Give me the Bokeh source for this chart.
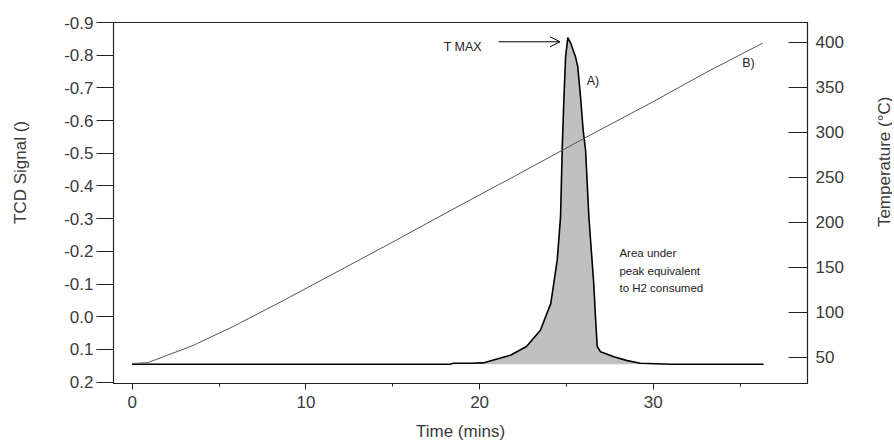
import numpy as np
from bokeh.plotting import figure
from bokeh.layouts import row
from bokeh.models import (Range1d, LinearAxis, FixedTicker, Label, Arrow, OpenHead,
                          CustomJSTickFormatter)
from bokeh.embed import file_html
from bokeh.resources import INLINE

# ---- data ----
time_min = [0.0, 5.0, 10.0, 15.0, 18.3, 18.5, 19.5, 20.2, 20.8, 21.8, 22.7, 23.5, 24.1,
            24.47, 24.66, 24.76, 24.85, 24.95, 25.08, 25.24, 25.52, 25.65, 25.81, 25.96,
            26.10, 26.29, 26.57, 26.67, 26.77, 26.96, 27.73, 28.50, 29.26, 31.0, 34.0, 36.35]
tcd_signal = [0.145, 0.145, 0.145, 0.145, 0.145, 0.142, 0.142, 0.141, 0.132, 0.117, 0.091,
              0.041, -0.041, -0.174, -0.306, -0.520, -0.663, -0.795, -0.854, -0.837, -0.795,
              -0.765, -0.673, -0.571, -0.510, -0.306, -0.102, 0.000, 0.091, 0.107, 0.122,
              0.134, 0.142, 0.145, 0.145, 0.145]
baseline_level = 0.145

temp_time = [0.0, 0.9, 2.0, 3.5, 5.8, 8.7, 12.0, 15.0, 18.9, 22.0, 26.0, 30.0, 33.0, 36.3]
temperature = [43, 44, 52, 63, 84, 113, 147, 178, 219, 251, 293, 334, 366, 399]

time_ticks = [0, 10, 20, 30]
time_minor_ticks = [5, 15, 25, 35]
signal_ticks = [-0.9, -0.8, -0.7, -0.6, -0.5, -0.4, -0.3, -0.2, -0.1, 0.0, 0.1, 0.2]
signal_tick_labels = ["-0.9", "-0.8", "-0.7", "-0.6", "-0.5", "-0.4", "-0.3", "-0.2",
                      "-0.1", "0.0", "0.1", "0.2"]
temp_ticks = [50, 100, 150, 200, 250, 300, 350, 400]

x_title = "Time (mins)"
left_title = "TCD Signal ()"
right_title = "Temperature (°C)"
area_note = ["Area under", "peak equivalent", "to H2 consumed"]

peak_start, peak_end = 20.2, 29.3

FONT = "Liberation Sans"
TXT = "#3a3a3a"
AX = "#222222"
H = 443

# ---- main figure ----
p = figure(width=826, height=H, output_backend="svg", toolbar_location=None,
           x_range=Range1d(-1.077, 38.877), y_range=Range1d(0.204, -0.9),
           min_border_left=73, min_border_right=59, min_border_top=22,
           min_border_bottom=60, background_fill_color="white",
           border_fill_color="white")
p.xgrid.visible = False
p.ygrid.visible = False
p.outline_line_color = AX
p.outline_line_width = 1.2

p.extra_y_ranges = {"temp": Range1d(20.8, 421.9)}

# bottom axis
xa = p.xaxis[0]
xa.ticker = FixedTicker(ticks=time_ticks, minor_ticks=time_minor_ticks)
xa.major_tick_out = 6
xa.major_tick_in = 0
xa.minor_tick_out = 3
xa.minor_tick_in = 0
xa.axis_line_color = AX
xa.major_tick_line_color = AX
xa.minor_tick_line_color = AX
xa.major_label_standoff = 6
xa.major_label_text_font = FONT
xa.major_label_text_font_size = "17px"
xa.major_label_text_color = TXT
xa.axis_label = x_title
xa.axis_label_standoff = 11
xa.axis_label_text_font = FONT
xa.axis_label_text_font_size = "17px"
xa.axis_label_text_font_style = "normal"
xa.axis_label_text_color = TXT

# left axis
ya = p.yaxis[0]
ya.ticker = FixedTicker(ticks=signal_ticks, minor_ticks=[])
ya.formatter = CustomJSTickFormatter(
    args=dict(tick_vals=signal_ticks, tick_texts=signal_tick_labels),
    code="""
    for (let i = 0; i < tick_vals.length; i++) {
        if (Math.abs(tick_vals[i] - tick) < 1e-9) return tick_texts[i];
    }
    return "";
    """)
ya.major_tick_out = 17
ya.major_tick_in = 0
ya.minor_tick_out = 0
ya.minor_tick_in = 0
ya.axis_line_color = AX
ya.major_tick_line_color = AX
ya.major_label_standoff = 3
ya.major_label_text_font = FONT
ya.major_label_text_font_size = "17px"
ya.major_label_text_color = TXT

# right axis
ra = LinearAxis(y_range_name="temp", ticker=FixedTicker(ticks=temp_ticks, minor_ticks=[]))
ra.major_tick_in = 19
ra.major_tick_out = 0
ra.minor_tick_in = 0
ra.minor_tick_out = 0
ra.axis_line_color = AX
ra.major_tick_line_color = AX
ra.major_label_standoff = 8
ra.major_label_text_font = FONT
ra.major_label_text_font_size = "17px"
ra.major_label_text_color = TXT
p.add_layout(ra, "right")

# ---- glyphs ----
t = np.array(time_min)
s = np.array(tcd_signal)
mask = (t >= peak_start) & (t <= peak_end)
p.varea(x=t[mask], y1=s[mask], y2=np.full(mask.sum(), baseline_level),
        fill_color="#c0c0c0", fill_alpha=1.0)
p.line(time_min, tcd_signal, line_color="black", line_width=1.6)
p.line(temp_time, temperature, y_range_name="temp", line_color="#555555", line_width=1)

# ---- annotations ----
ip = int(np.argmin(s))
t_peak, s_peak = t[ip], s[ip]
p.add_layout(Arrow(end=OpenHead(size=10, line_color="black", line_width=1),
                   x_start=t_peak - 3.99, y_start=s_peak + 0.013,
                   x_end=t_peak - 0.45, y_end=s_peak + 0.013,
                   line_color="black", line_width=1))
p.add_layout(Label(x=t_peak - 4.95, y=s_peak + 0.029, text="T MAX", text_align="right",
                   text_baseline="middle", text_font=FONT, text_font_size="12.5px",
                   text_color="#222222"))
p.add_layout(Label(x=26.17, y=-0.721, text="A)", text_align="left",
                   text_baseline="middle", text_font=FONT, text_font_size="12.5px",
                   text_color="#222222"))
p.add_layout(Label(x=35.12, y=-0.776, text="B)", text_align="left",
                   text_baseline="middle", text_font=FONT, text_font_size="12.5px",
                   text_color="#222222"))
for yy, line_txt in zip([-0.195, -0.140, -0.087], area_note):
    p.add_layout(Label(x=28.05, y=yy, text=line_txt, text_align="left",
                       text_baseline="middle", text_font=FONT, text_font_size="11.5px",
                       text_color="#222222"))


# ---- narrow side panels carrying the vertical axis titles ----
def side_panel(w, title, cx, cy):
    f = figure(width=w, height=H, output_backend="svg", toolbar_location=None,
               x_range=Range1d(0, w), y_range=Range1d(0, H),
               x_axis_location=None, y_axis_location=None,
               min_border=0, min_border_left=0, min_border_right=0,
               min_border_top=0, min_border_bottom=0,
               outline_line_color=None, background_fill_color="white",
               border_fill_color="white")
    f.xgrid.visible = False
    f.ygrid.visible = False
    f.add_layout(Label(x=cx, y=H - cy, text=title, angle=np.pi / 2,
                       text_align="center", text_baseline="middle", text_font=FONT,
                       text_font_size="17px", text_color=TXT))
    return f


left_panel = side_panel(40, left_title, 20, 184)
right_panel = side_panel(26, right_title, 17.5, 171)

layout = row(left_panel, p, right_panel, spacing=0)

open("out.html", "w").write(file_html(layout, INLINE))
